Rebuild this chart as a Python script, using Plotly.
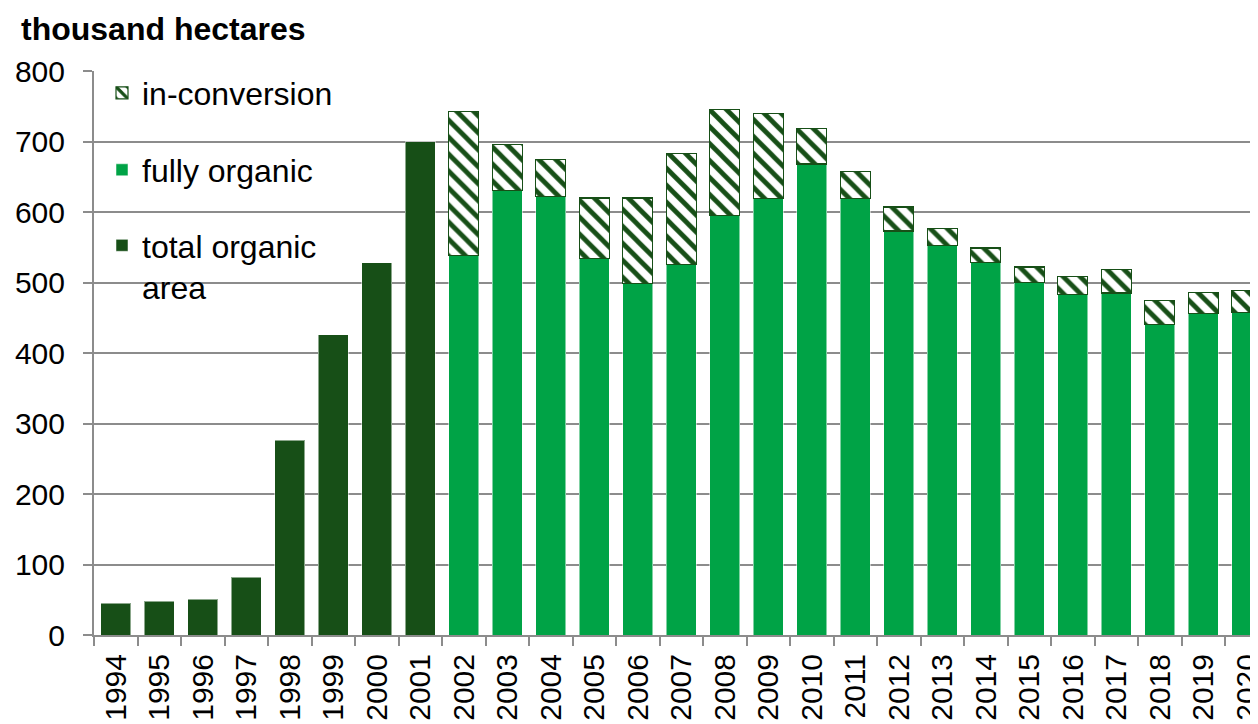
import plotly.graph_objects as go

years = [str(y) for y in range(1994, 2021)]
total_years = years[:8]          # 1994-2001
split_years = years[8:]          # 2002-2020

total_organic = [45, 48, 51, 82, 276, 426, 528, 700]
fully_organic = [538, 630, 622, 534, 499, 525, 595, 619, 668, 619,
                 573, 552, 528, 500, 483, 485, 441, 456, 457]
total_2002_on = [742, 696, 675, 620, 620, 683, 745, 740, 719, 657,
                 607, 577, 549, 522, 508, 518, 474, 486, 489]
in_conversion = [t - f for t, f in zip(total_2002_on, fully_organic)]

DARK = "#174f17"
LIGHT = "#00a346"
FONT = "Arial, Liberation Sans, sans-serif"

fig = go.Figure()
fig.add_bar(x=total_years, y=total_organic, name="total organic<br>area",
            marker=dict(color=DARK, line=dict(color="rgba(255,255,255,0.5)", width=1)),
            legend="legend3")
fig.add_bar(x=split_years, y=fully_organic, name="fully organic",
            marker=dict(color=LIGHT, line=dict(color="rgba(255,255,255,0.5)", width=1)),
            legend="legend2")
fig.add_bar(x=split_years, y=in_conversion, name="in-conversion",
            marker=dict(color="white", line=dict(color=DARK, width=1.2),
                        pattern=dict(shape="\\", fgcolor=DARK, bgcolor="white",
                                     size=12, solidity=0.4, fgopacity=1,
                                     fillmode="replace")),
            legend="legend")

# page body has an 8px margin: the figure is shrunk by that amount
OFF = 8
W, H = 1258 - OFF, 724 - OFF
L, T = 94 - OFF, 71 - OFF
B = H - (635 - OFF)
R = 0
pw, ph = W - L - R, H - T - B

def px(x):   # reference-page x -> paper x
    return (x - OFF - L) / pw

def py(y):   # reference-page y -> paper y
    return (H - B - (y - OFF)) / ph

legend_common = dict(bgcolor="rgba(0,0,0,0)", xanchor="left",
                     font=dict(family=FONT, size=32, color="black"),
                     itemclick=False, itemdoubleclick=False)

fig.update_layout(
    width=W, height=H,
    margin=dict(l=L, r=R, t=T, b=B, pad=0, autoexpand=False),
    paper_bgcolor="white", plot_bgcolor="white",
    barmode="stack", bargap=0.31,
    showlegend=True,
    font=dict(family=FONT, size=30, color="black"),
    legend=dict(x=px(102), y=py(93), yanchor="middle", **legend_common),
    legend2=dict(x=px(102), y=py(170), yanchor="middle", **legend_common),
    legend3=dict(x=px(102), y=py(218), yanchor="top", valign="top", **legend_common),
    annotations=[dict(text="<b>thousand hectares</b>", x=px(19), y=py(29),
                      xref="paper", yref="paper", xanchor="left", yanchor="middle",
                      showarrow=False, font=dict(family=FONT, size=32, color="black"))],
)

fig.update_yaxes(range=[0, 800], dtick=100, showgrid=True, gridcolor="#8c8c8c", gridwidth=2,
                 showline=True, linecolor="#8c8c8c", linewidth=2, automargin=False,
                 ticks="outside", ticklen=9, tickcolor="#8c8c8c", tickwidth=2,
                 ticklabelstandoff=12, zeroline=False,
                 tickfont=dict(family=FONT, size=30, color="black"))
fig.update_xaxes(type="category", categoryorder="array", categoryarray=years,
                 range=[-0.5, pw / (1174.5 / 27) - 0.5], automargin=False,
                 showline=True, linecolor="#8c8c8c", linewidth=2,
                 ticks="outside", ticklen=9, tickcolor="#8c8c8c", tickwidth=2,
                 tickson="boundaries", tickangle=-90, ticklabelstandoff=5,
                 tickfont=dict(family=FONT, size=30, color="black"))

fig.write_html("out.html")
